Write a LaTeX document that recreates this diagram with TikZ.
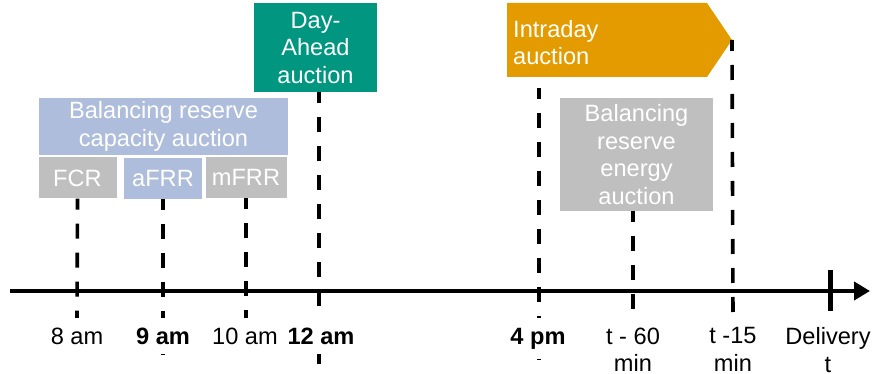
\documentclass[tikz,border=0pt]{standalone}
\usepackage{fontspec}
\setmainfont{Liberation Sans}
\usetikzlibrary{arrows.meta}
\definecolor{cblue}{RGB}{174,189,219}
\definecolor{cgrey}{RGB}{191,191,191}
\definecolor{cteal}{RGB}{0,150,128}
\definecolor{corange}{RGB}{227,155,0}
\tikzset{
  every node/.style={font=\fontsize{23.6}{27.5}\selectfont},
  boxnode/.style={draw=none, text=white, align=center, inner sep=0pt},
  dl/.style={line width=3.6pt, dash pattern=on 15pt off 14pt, dash phase=4pt},
  lbl/.style={anchor=base, fill=white, inner xsep=2pt, inner ysep=10pt},
  lbltwo/.style={anchor=north, align=center, inner sep=0pt},
}
\begin{document}
\begin{tikzpicture}[x=1pt,y=-1pt]
\useasboundingbox (0,0) rectangle (873,374);
% boxes
\node[boxnode, fill=cblue, minimum width=249pt, minimum height=57pt] (brc) at (163.5,126.5) {Balancing reserve\\capacity auction};
\node[boxnode, fill=cgrey, minimum width=78pt, minimum height=41pt] (fcr) at (77.5,178) {\raisebox{-2.5pt}{FCR}};
\node[boxnode, fill=cblue, minimum width=78pt, minimum height=41pt] (afrr) at (163,178.5) {\raisebox{-2.5pt}{aFRR}};
\node[boxnode, fill=cgrey, minimum width=81pt, minimum height=41pt] (mfrr) at (246,177.5) {\raisebox{-2.5pt}{mFRR}};
\node[boxnode, fill=cteal, minimum width=123pt, minimum height=89pt] (da) at (315.5,47.5) {Day-\\Ahead\\auction};
\node[boxnode, fill=cgrey, minimum width=153pt, minimum height=113pt] (bre) at (636.5,154.5) {\raisebox{-3pt}{\parbox{150pt}{\centering Balancing\\reserve\\energy\\auction}}};
% intraday arrow shape
\fill[corange] (507,3) -- (707,3) -- (732,40) -- (707,77) -- (507,77) -- cycle;
\coordinate (idtip) at (732,40);
\node[anchor=north west, align=left, text=white, inner sep=0pt] (id) at (513,20) {Intraday\\auction};
% coordinates for line ends
\coordinate (e8) at (77,318);
\coordinate (e9) at (163,367);
\coordinate (e10) at (246,318);
\coordinate (e12) at (319,367);
\coordinate (s4) at (539,88);
\coordinate (e4) at (539,367);
\coordinate (e60) at (633,318);
\coordinate (e15) at (733,318);
% dashed lines
\draw[dl] (fcr.south) -- (e8);
\draw[dl] (afrr.south) -- (e9);
\draw[dl] (mfrr.south) -- (e10);
\draw[dl] (da.south -| e12) -- (e12);
\draw[dl] (s4) -- (e4);
\draw[dl] (bre.south -| e60) -- (e60);
\draw[dl] (idtip) -- (e15);
% axis
\coordinate (ax0) at (10,291);
\coordinate (ax1) at (870,291);
\draw[line width=4.5pt, -{Triangle[length=16pt,width=18pt]}] (ax0) -- (ax1);
\coordinate (d0) at (830,270);
\coordinate (d1) at (830,311);
\draw[line width=5pt] (d0) -- (d1);
% labels
\node[lbl] (l8) at (77,344) {8 am};
\node[lbl] (l9) at (163,344) {\bfseries 9 am};
\node[lbl] (l10) at (245,344) {10 am};
\node[lbl] (l12) at (321,344) {\bfseries 12 am};
\node[lbl] (l4) at (538,344) {\bfseries 4 pm};
\node[lbltwo] (l60) at (633,327.5) {t - 60\\min};
\node[lbltwo] (l15) at (733,327.5) {t -15\\min};
\node[lbltwo] (ldel) at (828,327.5) {Delivery\\t};
\end{tikzpicture}
\end{document}
